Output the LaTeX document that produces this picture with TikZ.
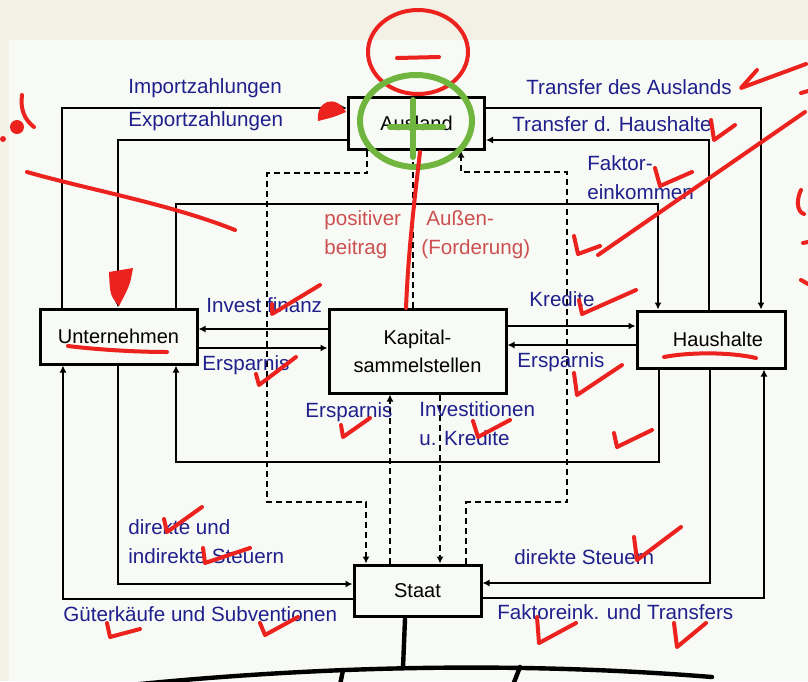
\documentclass[tikz,border=0pt]{standalone}
\usepackage{fontspec}
\setmainfont{Liberation Sans}
\usetikzlibrary{arrows.meta}
\definecolor{paper}{RGB}{243,240,229}
\definecolor{panel}{RGB}{247,250,245}
\definecolor{flowblue}{RGB}{32,32,140}
\definecolor{flowred}{RGB}{205,80,80}
\definecolor{pen}{RGB}{236,34,30}
\definecolor{greenpen}{RGB}{112,182,62}
\tikzset{
	box/.style={draw, line width=1.5pt, fill=panel, font=\fontsize{10}{14}\selectfont, align=center, inner sep=0pt},
	flow/.style={line width=0.75pt, -{Latex[length=3.5pt,width=3.5pt]}},
	dflow/.style={flow, dash pattern=on 3pt off 2pt},
	dline/.style={line width=0.75pt, dash pattern=on 3pt off 2pt},
	lab/.style={text=flowblue, font=\fontsize{10.3}{14.5}\selectfont, anchor=west, inner sep=0pt, align=left},
	redlab/.style={lab, text=flowred},
	redpen/.style={draw=pen, line width=2pt, line cap=round, line join=round},
	greenstroke/.style={draw=greenpen, line width=3pt, line cap=round},
	blackpen/.style={draw=black, line width=2.2pt, line cap=round}
}
\def\redcheck(#1)(#2)(#3){\draw[redpen] (#1) -- (#2) -- (#3);}

\begin{document}
\begin{tikzpicture}[x=0.5pt, y=-0.5pt]
			%%%%% START %%%%%
			\useasboundingbox (0,0) rectangle (808,681);
			\fill[paper] (0,0) rectangle (808,681);
			\fill[panel] (9,40) rectangle (808,681);
			
			\node[box, minimum width=68pt, minimum height=26pt] (ausl) at (416.5,123) {Ausland};
			\node[box, minimum width=78.5pt, minimum height=27.5pt] (unt) at (118.5,336.5) {Unternehmen};
			\node[box, minimum width=88.5pt, minimum height=42pt] (kap) at (417.5,351) {Kapital-\\sammelstellen};
			\node[box, minimum width=74pt, minimum height=28.5pt] (haus) at (711,339.5) {\hspace*{7pt}Haushalte};
			\node[box, minimum width=63.5pt, minimum height=25.5pt] (staat) at (417.5,590.5) {Staat};
			
			% Ausland
			\coordinate (cimp) at (62,108);
			\draw[flow] (unt.north -| cimp) -- (cimp) -- (ausl.west |- cimp);
			\coordinate (cexp) at (118,140);
			\draw[flow] (ausl.west |- cexp) -- (cexp) -- (unt.north -| cexp);
			\coordinate (ctra) at (761,108);
			\draw[flow] (ausl.east |- ctra) -- (ctra) -- (haus.north -| ctra);
			\coordinate (ctrh) at (709,140);
			\draw[flow] (haus.north -| ctrh) -- (ctrh) -- (ausl.east |- ctrh);
			
			% Unternehmen <-> Haushalte
			\coordinate (cfak) at (176,204);
			\coordinate (cfak2) at (658,204);
			\draw[flow] (unt.north -| cfak) -- (cfak) -- (cfak2) -- (haus.north -| cfak2);
			\coordinate (ckon) at (176,462);
			\coordinate (ckon2) at (659,462);
			\draw[flow] (haus.south -| ckon2) -- (ckon2) -- (ckon) -- (unt.south -| ckon);
			
			% Staat
			\coordinate (cst) at (118,584);
			\draw[flow] (unt.south -| cst) -- (cst) -- (staat.west |- cst);
			\coordinate (cgue) at (63,599);
			\draw[flow] (staat.west |- cgue) -- (cgue) -- (unt.south -| cgue);
			\coordinate (cdst) at (710,583);
			\draw[flow] (haus.south -| cdst) -- (cdst) -- (staat.east |- cdst);
			\coordinate (cfkt) at (764,598);
			\draw[flow] (staat.east |- cfkt) -- (cfkt) -- (haus.south -| cfkt);
			
			% Kapitalsammelstellen
			\coordinate (cinv) at (260,329);
			\coordinate (cspu) at (260,348);
			\draw[flow] (kap.west |- cinv) -- (unt.east |- cinv);
			\draw[flow] (unt.east |- cspu) -- (kap.west |- cspu);
			\coordinate (ckre) at (570,326);
			\coordinate (csph) at (570,345);
			\draw[flow] (kap.east |- ckre) -- (haus.west |- ckre);
			\draw[flow] (haus.west |- csph) -- (kap.east |- csph);
			
			% dashed
			\coordinate (cd1) at (367,173);
			\coordinate (cd2) at (267,173);
			\coordinate (cd3) at (267,502);
			\coordinate (cd4) at (366,502);
			\draw[dflow] (ausl.south -| cd1) -- (cd1) -- (cd2) -- (cd3) -- (cd4) -- (staat.north -| cd4);
			\coordinate (cd5) at (466,502);
			\coordinate (cd6) at (567,502);
			\coordinate (cd7) at (567,172);
			\coordinate (cd8) at (461,172);
			\draw[dflow] (staat.north -| cd5) -- (cd5) -- (cd6) -- (cd7) -- (cd8) -- (ausl.south -| cd8);
			\coordinate (cke) at (390,480);
			\draw[dflow] (staat.north -| cke) -- (kap.south -| cke);
			\coordinate (cik) at (440,480);
			\draw[dflow] (kap.south -| cik) -- (staat.north -| cik);
			\coordinate (cab) at (413,250);
			\draw[dline] (kap.north -| cab) -- (ausl.south -| cab);
			
			% labels
			\node[lab] (limp) at (128,88) {Importzahlungen};
			\node[lab] (lexp) at (128,121) {Exportzahlungen};
			\node[lab] (ltra) at (526,87) {Transfer des Auslands};
			\node[lab] (ltrh) at (512,124) {Transfer d. Haushalte};
			\node[lab] (lfak) at (587,177.5) {Faktor-\\einkommen};
			\node[redlab] (lpos) at (324,234.5) {positiver\\beitrag};
			\node[redlab] (lfor) at (421,234.5) {\hspace*{2.5pt}Außen-\\(Forderung)};
			\node[lab] (linv) at (206,305) {Invest finanz};
			\node[lab] (lspu) at (202,365) {Ersparnis};
			\node[lab] (lkre) at (529,299) {Kredite};
			\node[lab] (lsph) at (517,362) {Ersparnis};
			\node[lab] (lspk) at (305,412) {Ersparnis};
			\node[lab] (likr) at (419,423.5) {Investitionen\\u. Kredite};
			\node[lab] (lsteu) at (128,541.5) {direkte und\\indirekte Steuern};
			\node[lab] (lgue) at (63,614) {Güterkäufe und Subventionen};
			\node[lab] (ldst) at (514,557) {direkte Steuern};
			\node[lab] (lfkt) at (497,612) {Faktoreink. und Transfers};
			
			% handwriting
			\draw[redpen] (418,52) ellipse [x radius=50, y radius=42];
			\draw[redpen] (397,58) -- (439,57);
			\draw[greenstroke] (416,121) ellipse [x radius=56, y radius=46];
			\draw[greenstroke] (413,100) -- (413,157);
			\draw[greenstroke] (390,127) -- (443,127);
			\draw[redpen] (420,152) .. controls (412,220) and (408,260) .. (406,308);
			\fill[pen] (318,121) .. controls (316,100) and (336,94) .. (346,112) .. controls (334,117) .. cycle;
			\fill[pen] (109,272) -- (133,268) .. controls (130,285) .. (119,306) .. controls (110,295) .. cycle;
			\fill[pen] (17,127) circle [radius=7];
			\draw[redpen] (22,95) .. controls (20,110) and (25,120) .. (34,127);
			\fill[pen] (3,139) circle [radius=3];
			\draw[redpen] (27,172) .. controls (90,190) and (170,204) .. (235,230);
			\draw[redpen] (68,346) .. controls (100,350) and (140,352) .. (167,352);
			\draw[redpen] (664,357) .. controls (690,352) and (730,352) .. (756,358);
			\draw[redpen] (805,112) -- (598,255);
			\draw[redpen] (801,93) -- (808,91);
			\draw[redpen] (801,190) .. controls (796,200) and (797,212) .. (804,214);
			\draw[redpen] (801,280) -- (808,284);
			\draw[redpen] (803,243) -- (808,242);
			\redcheck(757,70)(741,88)(806,64)
			\redcheck(711,120)(714,140)(735,125)
			\redcheck(655,168)(660,186)(692,172)
			\redcheck(574,236)(578,254)(600,246)
			\redcheck(272,304)(272,314)(320,285)
			\redcheck(256,374)(259,385)(296,357)
			\redcheck(341,425)(343,437)(370,418)
			\redcheck(473,421)(478,437)(510,420)
			\redcheck(579,300)(582,314)(636,290)
			\redcheck(574,373)(577,395)(622,365)
			\redcheck(614,433)(617,447)(652,430)
			\redcheck(164,519)(167,532)(202,507)
			\redcheck(203,548)(205,563)(250,548)
			\redcheck(107,623)(110,637)(140,629)
			\redcheck(260,623)(265,635)(298,617)
			\redcheck(634,537)(637,560)(681,527)
			\redcheck(537,617)(539,643)(576,623)
			\redcheck(674,623)(677,647)(706,623)
			
			\draw[blackpen] (405,619) -- (403,668);
			\draw[blackpen] (130,685) .. controls (300,668) and (500,660) .. (712,677);
			\draw[blackpen] (343,670) -- (340,685);
			\draw[blackpen] (520,667) -- (513,685);
			%%%%% END %%%%%
\end{tikzpicture}
\end{document}
